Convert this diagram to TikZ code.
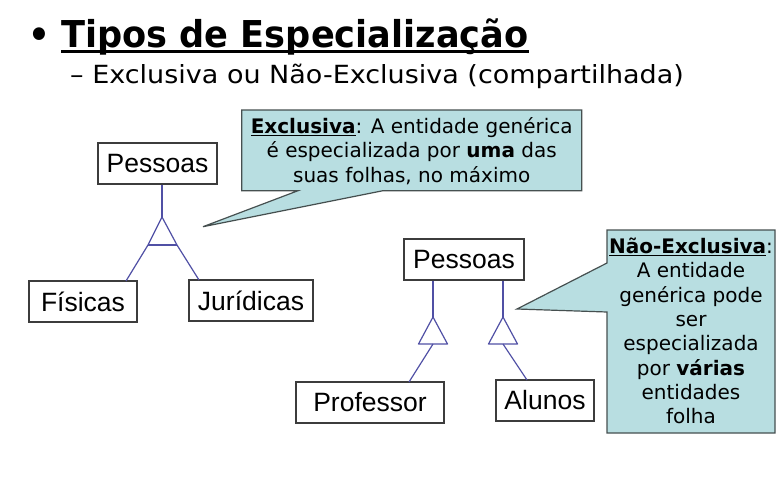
\documentclass[tikz,border=0pt]{standalone}
\usepackage{fontspec}
\setmainfont{DejaVu Sans}
\newfontfamily\titlefont[FakeStretch=0.95]{DejaVu Sans}
\newfontfamily\subfont[FakeStretch=1.08]{DejaVu Sans}
\newfontfamily\boxfont{Liberation Sans}
\newfontfamily\callfont{DejaVu Sans}
\definecolor{lnblue}{RGB}{80,80,165}
\definecolor{callfill}{RGB}{184,222,225}
\definecolor{callborder}{RGB}{70,80,80}
\definecolor{boxborder}{RGB}{60,60,60}
\tikzset{
  entbox/.style={draw=boxborder, line width=1.2pt, fill=white, inner sep=0pt,
    minimum height=41pt, font=\boxfont\fontsize{26.5}{30}\selectfont},
  conn/.style={draw=lnblue, line width=1.2pt},
  callout/.style={draw=callborder, fill=callfill, line width=1.2pt, line join=miter},
  calltext/.style={align=center, inner sep=0pt, font=\callfont\fontsize{20}{24.3}\selectfont}
}
\begin{document}
\begin{tikzpicture}[x=1pt,y=-1pt]
\useasboundingbox (0,0) rectangle (778,477);
% title
\node[anchor=base west, inner sep=0pt, font=\titlefont\bfseries\fontsize{36}{40}\selectfont] (bul) at (28,47) {\textbullet};
\node[anchor=base west, inner sep=0pt, font=\titlefont\bfseries\fontsize{37}{40}\selectfont] (title) at (61,47) {Tipos de Especialização};
\draw[line width=2.6pt] ([yshift=-4.5pt]title.base west) -- ([yshift=-4.5pt]title.base east);
\node[anchor=base west, inner sep=0pt, font=\subfont\fontsize{25}{28}\selectfont] (sub) at (70,83) {– Exclusiva ou Não-Exclusiva (compartilhada)};

% callout 1
\path[callout] (241.7,110) -- (581.7,110) -- (581.7,190.7) -- (383,190.7) -- (203,226.7) -- (298,190.7) -- (241.7,190.7) -- cycle;
\node[calltext] (c1) at (411.7,151) {\underline{\textbf{Exclusiva}}: A entidade genérica\\é especializada por \textbf{uma} das\\suas folhas, no máximo};

% callout 2
\path[callout] (607,230) -- (775,230) -- (775,433) -- (607,433) -- (607,312) -- (517,309) -- (607,263) -- cycle;
\node[calltext] (c2) at (691,331) {\underline{\textbf{Não-Exclusiva}}:\\A entidade\\genérica pode\\ser\\especializada\\por \textbf{várias}\\entidades\\folha};

% left diagram
\node[entbox, minimum width=119pt] (PL) at (157.5,163.5) {Pessoas};
\node[entbox, minimum width=108pt] (F) at (83,301.5) {Físicas};
\node[entbox, minimum width=124pt] (J) at (251,300.5) {Jurídicas};
\coordinate (tA) at (162,217);
\coordinate (tL) at (148,245);
\coordinate (tR) at (177,245);
\coordinate (fE) at (126,281);
\coordinate (jE) at (199,280);
\draw[conn] (tA |- PL.south) -- (tA);
\draw[conn, line join=round] (fE) -- (tL) -- (tA) -- (tR) -- (jE);
\draw[conn] (tL) -- (tR);

% right diagram
\node[entbox, minimum width=120pt] (PR) at (464,259.5) {Pessoas};
\node[entbox, minimum width=148pt] (Pr) at (370,402.5) {Professor};
\node[entbox, minimum width=98pt] (Al) at (545,400.5) {Alunos};
\coordinate (a1) at (433,317);
\coordinate (a2) at (503,317);
\coordinate (b1) at (433,344);
\coordinate (b2) at (503,344);
\coordinate (pE) at (409,382);
\coordinate (aE) at (527,380);
\draw[conn] (a1 |- PR.south) -- (a1);
\draw[conn] (a2 |- PR.south) -- (a2);
\draw[conn, line join=round] (a1) -- ++(14.5,27) -- ++(-29,0) -- cycle;
\draw[conn, line join=round] (a2) -- ++(14.5,27) -- ++(-29,0) -- cycle;
\draw[conn] (b1) -- (pE);
\draw[conn] (b2) -- (aE);
\end{tikzpicture}
\end{document}
